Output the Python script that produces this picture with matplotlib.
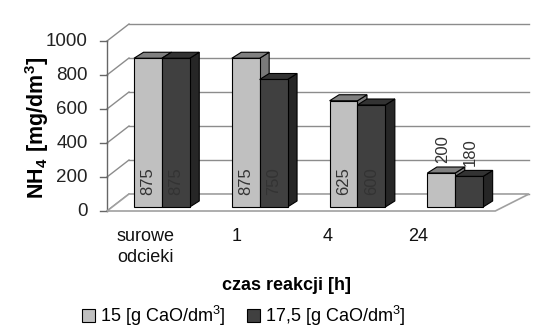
import matplotlib

matplotlib.use("Agg")
import matplotlib.pyplot as plt
from matplotlib.patches import Polygon, Rectangle

plt.rcParams["font.family"] = ["Liberation Sans", "DejaVu Sans"]
plt.rcParams["mathtext.fontset"] = "custom"
plt.rcParams["mathtext.rm"] = "Liberation Sans"
plt.rcParams["mathtext.bf"] = "Liberation Sans:bold"

# data
categories = ["surowe\nodcieki", "1", "4", "24"]
series_names = ["15 [g CaO/dm$^3$]", "17,5 [g CaO/dm$^3$]"]
vals_15 = [875, 875, 625, 200]
vals_175 = [875, 750, 600, 180]
y_ticks = [0, 200, 400, 600, 800, 1000]

front_col = ["#c0c0c0", "#404040"]
top_col = ["#808080", "#333333"]
side_col = ["#7a7a7a", "#262626"]

fig = plt.figure(figsize=(5.58, 3.36), dpi=100)
W, H = 558, 336
# axes = plane of the bar fronts (pixel layout of the reference)
ax = fig.add_axes([112 / W, (336 - 207) / H, (512 - 112) / W, 170 / H])
ax.set_xlim(-0.51, 3.58)
ax.set_ylim(0, 1000)
ax.axis("off")
fig.canvas.draw()

to_disp = ax.transData.transform
to_data = ax.transData.inverted().transform


def shift(x, y, dx, dy):
    px, py = to_disp((x, y))
    return tuple(to_data((px + dx, py + dy)))


x0, x1 = ax.get_xlim()
BACK = (17, 13)
FRONT = (-5, -4)
grid_c = "#8c8c8c"

# back wall grid + left wall diagonals + front ticks
for v in y_ticks:
    bl = shift(x0, v, *BACK)
    br = shift(x1, v, *BACK)
    fl = shift(x0, v, *FRONT)
    ax.plot([bl[0], br[0]], [bl[1], br[1]], color=grid_c, lw=1, clip_on=False, zorder=1)
    ax.plot([fl[0], bl[0]], [fl[1], bl[1]], color=grid_c, lw=1, clip_on=False, zorder=1)
    tk = shift(x0, v, FRONT[0] - 7, FRONT[1])
    ax.plot([tk[0], fl[0]], [tk[1], fl[1]], color="#666666", lw=1, clip_on=False, zorder=1)
    lp = shift(x0, v, FRONT[0] - 19, FRONT[1])
    ax.text(lp[0], lp[1], str(v), ha="right", va="center", fontsize=13.5, color="#222222")

# front axis line
fa = shift(x0, 0, *FRONT)
fb = shift(x0, 1000, *FRONT)
ax.plot([fa[0], fb[0]], [fa[1], fb[1]], color="#666666", lw=1, clip_on=False, zorder=1)

# floor
floor = [shift(x0, 0, *FRONT), shift(x1 - 0.12, 0, *FRONT), shift(x1, 0, *BACK), shift(x0, 0, *BACK)]
ax.add_patch(Polygon(floor, closed=True, facecolor="white", edgecolor="#a0a0a0", lw=1.2,
                     clip_on=False, zorder=1.5))

# 3D-looking bars
bw = 0.285
DEPTH = (9.5, 6)
for i in range(len(categories)):
    for j, vals in enumerate([vals_15, vals_175]):
        v = vals[i]
        left = i - bw + j * bw
        right = left + bw
        z = 2 + i * 2 + j * 0.5
        side = [(right, 0), shift(right, 0, *DEPTH), shift(right, v, *DEPTH), (right, v)]
        top = [(left, v), (right, v), shift(right, v, *DEPTH), shift(left, v, *DEPTH)]
        ax.add_patch(Polygon(side, closed=True, facecolor=side_col[j], edgecolor="black",
                             lw=0.8, zorder=z, clip_on=False))
        ax.add_patch(Polygon(top, closed=True, facecolor=top_col[j], edgecolor="black",
                             lw=0.8, zorder=z, clip_on=False))
        ax.add_patch(Rectangle((left, 0), bw, v, facecolor=front_col[j], edgecolor="black",
                               lw=0.8, zorder=z + 0.1, clip_on=False))
        xc = (left + right) / 2
        if v > 400:
            ax.text(xc, 70, str(v), rotation=90, ha="center", va="bottom", fontsize=12,
                    color="#333333", zorder=z + 0.2)
        else:
            ax.text(xc + 0.01, v + 60, str(v), rotation=90, ha="center", va="bottom",
                    fontsize=12, color="#333333", zorder=z + 0.2)

# category labels (front plane)
for i, lab in enumerate(categories):
    lx = i * 0.93 - 0.17
    ax.text(lx, -125, lab, ha="center", va="top", fontsize=13, color="#111111",
            linespacing=1.3)

fig.text(287 / W, 1 - 285 / H, "czas reakcji [h]", ha="center", va="center",
         fontsize=13, fontweight="bold")
fig.text(37 / W, 1 - 128 / H, r"$\mathbf{NH_4\ [mg/dm^3]}$", ha="center", va="center",
         rotation=90, fontsize=15.5)

# legend
handles = [Rectangle((0, 0), 1, 1, facecolor=c, edgecolor="black", lw=0.8) for c in front_col]
fig.legend(handles, series_names, loc="center", bbox_to_anchor=(244 / W, 1 - 316 / H),
           ncol=2, frameon=False, fontsize=13, handlelength=0.7, handleheight=0.7,
           handletextpad=0.3, columnspacing=1.2)

fig.savefig("out.png", dpi=100)
